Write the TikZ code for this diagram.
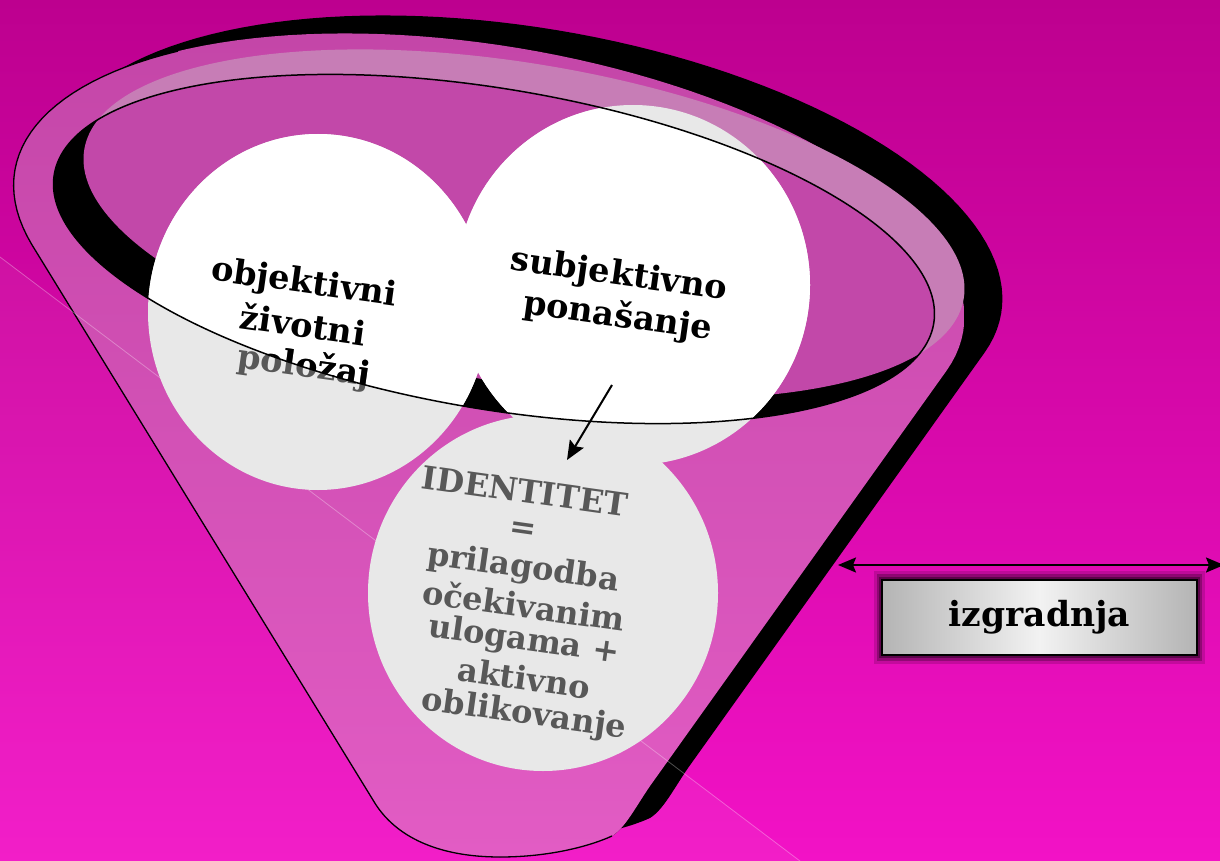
\documentclass[tikz,border=0pt]{standalone}
\usepackage{fontspec}
\setmainfont{DejaVu Serif}
\usetikzlibrary{arrows.meta}
\definecolor{bgtop}{HTML}{BD008F}
\definecolor{bgbot}{HTML}{F212C6}
\definecolor{bodytop}{HTML}{C446A8}
\definecolor{bodybot}{HTML}{E25CC4}
\definecolor{interior}{HTML}{C248A9}
\definecolor{lightband}{HTML}{C77DB6}
\definecolor{ballgrey}{HTML}{E8E8E8}
\definecolor{txtgrey}{HTML}{585858}
\definecolor{boxgrey}{HTML}{B4B4B4}
\definecolor{boxlight}{HTML}{F2F2F2}
\begin{document}
\begin{tikzpicture}[x=1pt,y=-1pt,
  rotA/.style={rotate around={-9.65:(494,249)}},
  rotC/.style={rotate around={-9.65:(524,224)}},
  lbl/.style={inner sep=0pt, rotate=-8, font=\fontsize{33.5}{33.5}\selectfont\bfseries},
  idl/.style={inner sep=0pt, rotate=-8, text=txtgrey, font=\fontsize{32}{32}\selectfont\bfseries},
  arr/.style={line width=2pt, -{Stealth[length=19pt,width=16pt,inset=3pt]}},
  dbl/.style={line width=2pt, {Stealth[length=18pt,width=15pt,inset=3pt]}-{Stealth[length=18pt,width=15pt,inset=3pt]}},
  boxnode/.style={draw=black, line width=1.5pt, minimum width=315pt, minimum height=75pt, inner sep=0pt,
    left color=boxgrey, right color=boxgrey, middle color=boxlight, font=\fontsize{34.5}{34.5}\selectfont\bfseries}
]
\useasboundingbox (0,0) rectangle (1220,861);
% background
\fill[top color=bgtop, bottom color=bgbot] (0,0) rectangle (1220,861);
\fill[white, opacity=0.05] (0,257) -- (800,861) -- (0,861) -- cycle;

% black rim and right side thickness (body shifted)
\begin{scope}[shift={(38,-18)}]
\fill[black] plot[domain=160:371.8, samples=90, variable=\t]
  ({489+481*cos(\t)*cos(9.65)-205*sin(\t)*sin(9.65)},
   {251+481*cos(\t)*sin(9.65)+205*sin(\t)*cos(9.65)})
  -- (650,786) .. controls (635,808) and (625,828) .. (612,836)
  .. controls (590,846) and (550,857) .. (500,857) .. controls (440,857) and (395,838) .. (373,800) -- cycle;
\end{scope}

% funnel body
\fill[top color=bodytop, bottom color=bodybot] plot[domain=160:371.8, samples=90, variable=\t]
  ({489+481*cos(\t)*cos(9.65)-205*sin(\t)*sin(9.65)},
   {251+481*cos(\t)*sin(9.65)+205*sin(\t)*cos(9.65)})
  -- (650,786) .. controls (635,808) and (625,828) .. (612,836)
  .. controls (590,846) and (550,857) .. (500,857) .. controls (440,857) and (395,838) .. (373,800) -- cycle;
\draw[line width=1.3pt, line join=round] plot[domain=0:65, samples=30, variable=\t]
  ({489+481*cos(225-\t)*cos(9.65)-205*sin(225-\t)*sin(9.65)},
   {251+481*cos(225-\t)*sin(9.65)+205*sin(225-\t)*cos(9.65)})
  -- (373,800) .. controls (395,838) and (440,857) .. (500,857) .. controls (550,857) and (590,846) .. (612,836);

% rim: light band, inner wall, interior
\fill[lightband, rotC] (524,224) ellipse [x radius=446pt, y radius=160pt];
\fill[black, rotA] (494,249) ellipse [x radius=446pt, y radius=160pt];
\begin{scope}
\clip[rotA] (494,249) ellipse [x radius=446pt, y radius=160pt];
\fill[interior, rotC] (524,224) ellipse [x radius=446pt, y radius=160pt];
\end{scope}

% faint diagonal line
\draw[white, opacity=0.3, line width=0.8pt] (0,257) -- (800,861);

% circles
\fill[ballgrey] (318,312) ellipse [x radius=170pt, y radius=178pt];
\fill[ballgrey] (633,285) ellipse [x radius=177pt, y radius=180pt];
\fill[ballgrey] (543,593) ellipse [x radius=175pt, y radius=178pt];
\begin{scope}
\clip[rotA] (494,249) ellipse [x radius=446pt, y radius=160pt];
\fill[white] (318,312) ellipse [x radius=170pt, y radius=178pt];
\fill[white] (633,285) ellipse [x radius=177pt, y radius=180pt];
\fill[white] (543,593) ellipse [x radius=175pt, y radius=178pt];
\end{scope}

% texts
\node[lbl] (o1) at (304,284) {objektivni};
\node[lbl] (o2) at (303,324) {životni};
\node[lbl, text=txtgrey] (o3g) at (304,367) {položaj};
\begin{scope}
\clip[rotA] (494,249) ellipse [x radius=446pt, y radius=160pt];
\node[lbl] (o3) at (304,367) {položaj};
\end{scope}
\node[lbl] (s1) at (619,276) {subjektivno};
\node[lbl] (s2) at (618,317) {ponašanje};

\node[idl] (i1) at (525,491) {IDENTITET};
\node[idl] (i2) at (523,531) {=};
\node[idl] (i3) at (523,569) {prilagodba};
\node[idl] (i4) at (524,605) {očekivanim};
\node[idl] (i5) at (524,641) {ulogama +};
\node[idl] (i6) at (524,678) {aktivno};
\node[idl] (i7) at (524,715) {oblikovanje};

% front rim edge
\draw[line width=1.5pt, rotA] (494,249) ellipse [x radius=446pt, y radius=160pt];

% arrow into identity
\coordinate (a1) at (612,385);
\coordinate (a2) at (567,460);
\draw[arr] (a1) -- (a2);

% double arrow and box
\coordinate (b1) at (838,565);
\coordinate (b2) at (1224,565);
\draw[dbl] (b1) -- (b2);
\fill[black, opacity=0.15] (874,571) rectangle (1205,664);
\fill[black, opacity=0.25] (877,574) rectangle (1202,661);
\fill[black, opacity=0.35] (879,577) rectangle (1200,658);
\node[boxnode] (izg) at (1039.5,617.5) {izgradnja};
\end{tikzpicture}
\end{document}
